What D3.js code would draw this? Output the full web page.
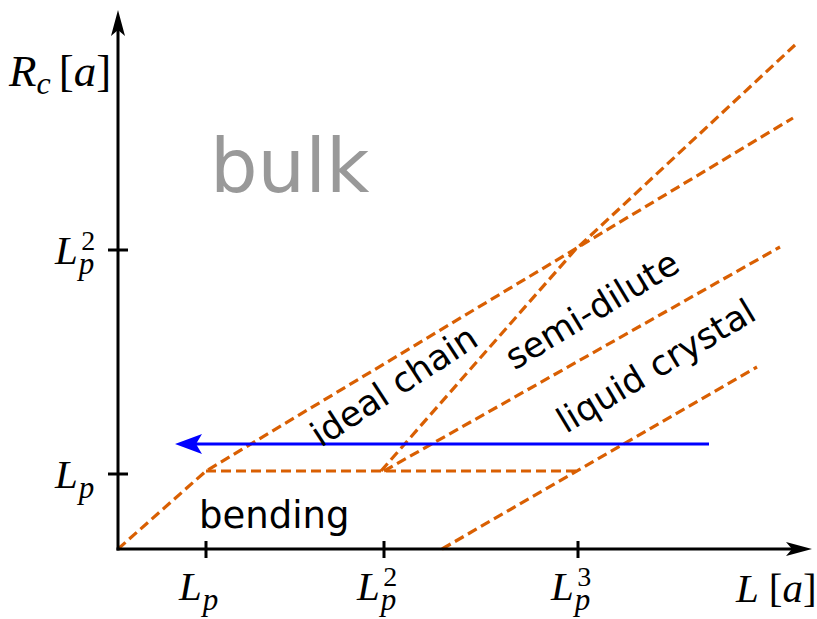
<!DOCTYPE html>
<html>
<head>
<meta charset="utf-8">
<script src="https://cdn.jsdelivr.net/npm/d3@7"></script>
<style>
html,body{margin:0;padding:0;background:#fff;}
svg{display:block;}
</style>
</head>
<body>
<svg id="chart" width="817" height="619"></svg>
<script>
// ---- data (schematic units) ----
const xTicks = [88, 266, 460];          // L_p, L_p^2, L_p^3
const xTickSup = ["", "2", "3"];
const yTicks = [75, 299];               // L_p, L_p^2
const yTickSup = ["", "2"];

const bendingIdeal = [[0, 0], [88, 78], [675, 431]];
const plateau = [[88, 78], [460, 78]];
const steepLine = [[263, 78], [457, 299], [677, 504]];
const semiDilute = [[266, 78], [662, 302]];
const liquidCrystal = [[324, 0], [639, 182]];
const arrowY = 105;
const arrowFrom = 591, arrowTo = 57;

const regionLabels = [
  {text: "ideal chain", x: 276, y: 163, angle: -33},
  {text: "semi-dilute", x: 474, y: 239, angle: -31},
  {text: "liquid crystal", x: 538, y: 183, angle: -31}
];

// ---- drawing ----
const svg = d3.select("#chart");
const x = d3.scaleLinear().domain([0, 700]).range([118, 818]);
const y = d3.scaleLinear().domain([0, 540]).range([549, 9]);
const orange = "#d95f02";
const mathFont = "'Liberation Serif', 'DejaVu Serif', serif";
const sansFont = "'DejaVu Sans', sans-serif";

const line = d3.line().x(d => x(d[0])).y(d => y(d[1]));
[bendingIdeal, plateau, steepLine, semiDilute, liquidCrystal].forEach(pts => {
  svg.append("path").attr("d", line(pts))
    .attr("fill", "none").attr("stroke", orange)
    .attr("stroke-width", 3.2).attr("stroke-dasharray", "10,5");
});

// axes
const x0 = x(0), y0 = y(0);
svg.append("line").attr("x1", x0).attr("y1", y0 + 1.5).attr("x2", x0).attr("y2", 28)
  .attr("stroke", "#000").attr("stroke-width", 3);
svg.append("line").attr("x1", x0 - 1.5).attr("y1", y0).attr("x2", 795).attr("y2", y0)
  .attr("stroke", "#000").attr("stroke-width", 3);
svg.append("path").attr("d", `M${x0},10 L${x0 + 7},36 L${x0},30 L${x0 - 7},36 Z`).attr("fill", "#000");
svg.append("path").attr("d", `M812,${y0} L786,${y0 - 7} L792,${y0} L786,${y0 + 7} Z`).attr("fill", "#000");

// ticks
xTicks.forEach(v => {
  svg.append("line").attr("x1", x(v)).attr("x2", x(v)).attr("y1", y0 - 8).attr("y2", y0 + 9)
    .attr("stroke", "#000").attr("stroke-width", 3);
});
yTicks.forEach(v => {
  svg.append("line").attr("y1", y(v)).attr("y2", y(v)).attr("x1", x0 - 10).attr("x2", x0 + 10)
    .attr("stroke", "#000").attr("stroke-width", 3);
});

function mathLp(g, lx, by, sup) {
  const t = g.append("text").attr("x", lx).attr("y", by).attr("font-family", mathFont)
    .attr("font-size", 41);
  t.append("tspan").attr("font-style", "italic").text("L");
  t.append("tspan").attr("font-style", "italic").attr("font-size", 31)
    .attr("dx", 1).attr("dy", 10).text("p");
  if (sup) {
    t.append("tspan").attr("font-size", 28).attr("dx", -13).attr("dy", -24).text(sup);
  }
}
xTicks.forEach((v, i) => {
  const g = svg.append("g");
  mathLp(g, x(v) - 27, 600, xTickSup[i]);
});
yTicks.forEach((v, i) => {
  const g = svg.append("g");
  mathLp(g, 55, y(v) + 14, yTickSup[i]);
});

// axis titles
const rc = svg.append("text").attr("x", 9).attr("y", 86).attr("font-family", mathFont).attr("font-size", 45);
rc.append("tspan").attr("font-style", "italic").text("R");
rc.append("tspan").attr("font-style", "italic").attr("font-size", 32).attr("dy", 8).text("c");
rc.append("tspan").attr("dy", -8).attr("dx", 8).text("[");
rc.append("tspan").attr("font-style", "italic").text("a");
rc.append("tspan").text("]");

const la = svg.append("text").attr("x", 736).attr("y", 602).attr("font-family", mathFont).attr("font-size", 41);
la.append("tspan").attr("font-style", "italic").text("L");
la.append("tspan").attr("dx", 10).text("[");
la.append("tspan").attr("font-style", "italic").text("a");
la.append("tspan").text("]");

// blue arrow
svg.append("line").attr("x1", x(arrowFrom)).attr("x2", x(arrowTo) + 20)
  .attr("y1", y(arrowY)).attr("y2", y(arrowY)).attr("stroke", "#0000ff").attr("stroke-width", 3);
const ax = x(arrowTo), ay = y(arrowY);
svg.append("path").attr("d", `M${ax},${ay} L${ax + 27},${ay - 10} L${ax + 21},${ay} L${ax + 27},${ay + 10} Z`)
  .attr("fill", "#0000ff");

// region labels
svg.append("text").attr("x", 210).attr("y", 192).attr("font-family", sansFont)
  .attr("font-size", 75).attr("fill", "#999999").text("bulk");
svg.append("text").attr("x", 199).attr("y", 528).attr("font-family", sansFont)
  .attr("font-size", 37).attr("fill", "#000").text("bending");
regionLabels.forEach(d => {
  svg.append("text")
    .attr("transform", `translate(${x(d.x)},${y(d.y)}) rotate(${d.angle})`)
    .attr("text-anchor", "middle").attr("dominant-baseline", "central")
    .attr("font-family", sansFont).attr("font-size", 35).attr("fill", "#000")
    .text(d.text);
});
</script>
</body>
</html>
